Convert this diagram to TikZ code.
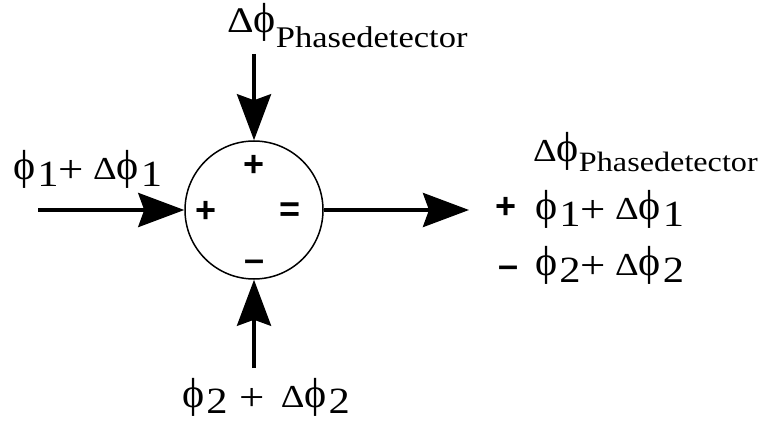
\documentclass[tikz,border=0pt]{standalone}
\usepackage{fontspec}
\setmainfont{Liberation Serif}[FakeStretch=1.15]
\newfontfamily\phfont{Liberation Serif}
\newfontfamily\signfont{Liberation Sans}
\usetikzlibrary{arrows.meta}

\newcommand{\fph}{{\phfont\fontsize{42}{42}\selectfont ϕ}}
\newcommand{\fdl}{Δ}
\newcommand{\fpl}{\raisebox{-3pt}{\fontsize{39}{39}\selectfont +}}
\newcommand{\lowix}[2][7pt]{\kern2pt\raisebox{-#1}{\fontsize{37}{37}\selectfont #2}}
\newcommand{\pdsub}[2]{\raisebox{-#1}{\fontsize{#2}{#2}\selectfont Phasedetector}}

\begin{document}
\begin{tikzpicture}[x=1pt, y=1pt,
		lbl/.style={inner sep=0pt, anchor=base west, font=\fontsize{32}{36}\selectfont},
		sgn/.style={inner sep=0pt, anchor=base, font=\signfont\bfseries\fontsize{36}{38}\selectfont},
		arr/.style={line width=4pt, -{Stealth[length=46pt, width=34pt, inset=6pt]}}]
		\useasboundingbox (0, 0) rectangle (767, -427);
		\node [draw, circle, line width=1.5pt, minimum size=138pt, inner sep=0pt] (sum) at (254, -210) {};
		\node [sgn] (sgnT) at (254, -177) {+};
		\node [sgn] (sgnL) at (206, -223) {+};
		\node [sgn] (sgnR) at (290, -222) {=};
		\node [sgn] (sgnB) at (255, -271) {–};
		% inputs
		\node [lbl] (inA) at (13, -180) {\fph\lowix{1}\fpl\ \fdl\fph\lowix{1}};
		\node [lbl, font=\fontsize{36}{40}\selectfont] (phd) at (227, -33) {\fdl\fph\pdsub{15pt}{30}};
		\node [lbl] (inB) at (182, -407) {\fph\lowix[6pt]{2}\hspace{12pt}\fpl\hspace{16pt}\fdl\fph\lowix[6pt]{2}};
		% output
		\node [lbl] (outA) at (533, -162) {\fdl\fph\pdsub{10pt}{28}};
		\node [sgn] (outBs) at (506, -219) {+};
		\node [lbl] (outB) at (535, -220) {\fph\lowix{1}\fpl\ \fdl\fph\lowix{1}};
		\node [sgn] (outCs) at (509, -277) {–};
		\node [lbl] (outC) at (535, -275) {\fph\lowix{2}\fpl\ \fdl\fph\lowix{2}};
		\coordinate (inAtail) at (38, -210);
		\coordinate (phdtail) at (254, -54);
		\coordinate (inBtail) at (254, -368);
		\coordinate (outtip) at (469, -210);
		\draw [arr] (inAtail) -- (sum.west);
		\draw [arr] (phdtail) -- (sum.north);
		\draw [arr] (inBtail) -- (sum.south);
		\draw [arr] (sum.east) -- (outtip);
	\end{tikzpicture}
\end{document}
